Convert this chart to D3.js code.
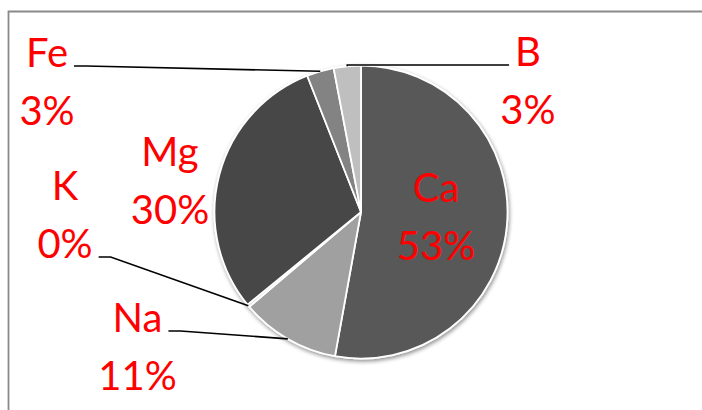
<!DOCTYPE html>
<html>
<head>
<meta charset="utf-8">
<script src="https://cdn.jsdelivr.net/npm/d3@7/dist/d3.min.js"></script>
<style>
  html, body { margin: 0; padding: 0; background: #fff; }
  svg { display: block; }
</style>
</head>
<body>
<svg id="chart" width="702" height="410"></svg>
<script>
// Element shares of the sample, clockwise from 12 o'clock
const categories = ["Ca", "Na", "K", "Mg", "Fe", "B"];
const values = [53, 11, 0.3, 30, 3, 3];
const sliceColors = ["#585858", "#a0a0a0", "#d9d9d9", "#474747", "#838383", "#bfbfbf"];

const width = 702, height = 410;
const cx = 361, cy = 212, radius = 146.5;
const fontSize = 40, lineGap = 58;

// Label placement relative to the pie centre: [centre x, first baseline y], leader side
const labelLayout = {
  Ca: { x: 75, y: -10, leader: null },
  Na: { x: -223.5, y: 120, leader: { line: 0, side: "right" } },
  K:  { x: -296, y: -12, leader: { line: 1, side: "right" } },
  Mg: { x: -191, y: -46, leader: null },
  Fe: { x: -314, y: -145, leader: { line: 0, side: "right" } },
  B:  { x: 167, y: -146, leader: { line: 0, side: "left" } }
};

const svg = d3.select("#chart");

// frame of the chart area
svg.append("path")
  .attr("d", `M8.5,${height} L8.5,11.5 L${width},11.5`)
  .attr("fill", "none")
  .attr("stroke", "#8a8a8a")
  .attr("stroke-width", 1.8);

const defs = svg.append("defs");
const shadow = defs.append("filter").attr("id", "pieShadow")
  .attr("x", "-20%").attr("y", "-20%").attr("width", "140%").attr("height", "140%");
shadow.append("feGaussianBlur").attr("in", "SourceAlpha").attr("stdDeviation", 2.2).attr("result", "blur");
shadow.append("feOffset").attr("in", "blur").attr("dx", 0.5).attr("dy", 1.5).attr("result", "off");
shadow.append("feComponentTransfer").attr("in", "off").attr("result", "soft")
  .append("feFuncA").attr("type", "linear").attr("slope", 0.45);
const merge = shadow.append("feMerge");
merge.append("feMergeNode").attr("in", "soft");
merge.append("feMergeNode").attr("in", "SourceGraphic");

const total = d3.sum(values);
const data = categories.map((c, i) => ({ name: c, value: values[i], color: sliceColors[i] }));

const pie = d3.pie().value(d => d.value).sort(null);
const arcs = pie(data);
const arc = d3.arc().innerRadius(0).outerRadius(radius);
const edgeArc = d3.arc().innerRadius(radius).outerRadius(radius);

const g = svg.append("g").attr("transform", `translate(${cx},${cy})`);

g.append("g").attr("filter", "url(#pieShadow)")
  .selectAll("path")
  .data(arcs)
  .join("path")
  .attr("d", arc)
  .attr("fill", d => d.data.color)
  .attr("stroke", "#ffffff")
  .attr("stroke-width", 1.8)
  .attr("stroke-linejoin", "round");

const labels = g.append("g")
  .attr("font-family", "Lato, 'Open Sans', sans-serif")
  .attr("font-size", fontSize)
  .attr("fill", "#ff0000")
  .attr("text-anchor", "middle");

const leaders = g.append("g")
  .attr("fill", "none")
  .attr("stroke", "#000")
  .attr("stroke-width", 1.6);

arcs.forEach(a => {
  const name = a.data.name;
  const lay = labelLayout[name];
  const pct = Math.round(a.data.value / total * 100) + "%";
  const lines = [name, pct];
  const nodes = lines.map((t, i) =>
    labels.append("text")
      .attr("x", lay.x)
      .attr("y", lay.y + i * lineGap)
      .text(t)
      .node());

  if (lay.leader) {
    const n = nodes[lay.leader.line];
    const w = n.getComputedTextLength();
    const by = lay.y + lay.leader.line * lineGap - 1;
    const [ex, ey] = edgeArc.centroid(a);
    let pts;
    if (lay.leader.side === "right") {
      const sx = lay.x + w / 2 + 6;
      pts = [[sx, by], [sx + 12, by], [ex, ey]];
    } else {
      const sx = lay.x - w / 2 - 6;
      pts = [[sx, by], [ex, by], [ex, ey]];
    }
    leaders.append("path").attr("d", d3.line()(pts));
  }
});
</script>
</body>
</html>
